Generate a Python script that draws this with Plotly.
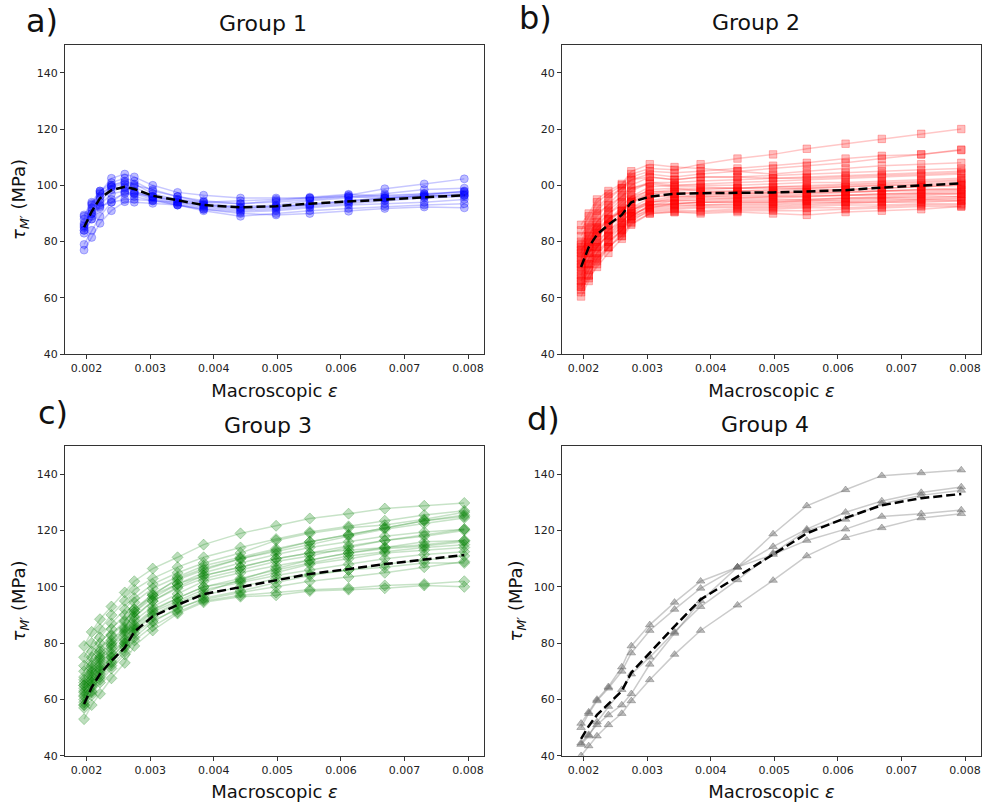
import plotly.graph_objects as go
from plotly.subplots import make_subplots

# ---------------- data ----------------
strain = [0.00196, 0.00208, 0.00221, 0.00239, 0.00260, 0.00275, 0.00304, 0.00343,
          0.00384, 0.00442, 0.00498, 0.00551, 0.00612, 0.00669, 0.00731, 0.00794]

x_ticks = [0.002, 0.003, 0.004, 0.005, 0.006, 0.007, 0.008]
x_tick_labels = ["0.002", "0.003", "0.004", "0.005", "0.006", "0.007", "0.008"]
y_ticks = [40, 60, 80, 100, 120, 140]
y_tick_labels = ["40", "60", "80", "100", "120", "140"]
y_tick_labels_b = ["40", "60", "80", "00", "20", "40"]   # clipped labels as shown

titles = ["Group 1", "Group 2", "Group 3", "Group 4"]
letters = ["a)", "b)", "c)", "d)"]

group1 = [
    [89.5, 94, 98, 101, 102.5, 101.5, 98, 96, 94.5, 93.5, 94, 95, 96, 97, 98.5, 99],
    [89, 93.5, 97.5, 102.5, 104, 103, 100, 97.5, 96.5, 95.5, 95.5, 95.5, 96.5, 98.8, 100.5, 102.3],
    [86, 91, 96, 100, 101.5, 100.5, 97, 95, 93.5, 92.5, 93, 94.5, 95.5, 96.5, 97, 97.5],
    [85, 90, 95, 99.5, 100.5, 99.5, 96, 94, 92.5, 91.5, 92, 93, 94, 95, 96, 97],
    [84, 89, 94, 98.5, 99.5, 98, 95.5, 93.5, 92, 91, 91.5, 92.5, 93.5, 94.5, 95.5, 96],
    [83, 88, 93, 97, 98, 97, 95, 93, 91.5, 90.5, 91, 92, 93, 93.5, 94, 95],
    [79, 84, 89, 94, 97.5, 96, 94.5, 93, 91.5, 90, 89.5, 90, 90.8, 91.8, 92.3, 92],
    [77, 81.5, 86.5, 91, 94.2, 94, 93.6, 93, 91, 89, 90, 91, 91.8, 92.5, 93, 93.5],
    [85.5, 92, 98, 100, 101, 100, 98.5, 96, 94, 93.5, 94.5, 95.5, 96, 95.5, 96, 96.5],
    [88, 93, 97, 99.5, 99, 97.5, 96, 95, 94, 94.5, 95, 95.8, 96.8, 96, 97, 97.8],
    [86.5, 90, 92.5, 94, 95, 95, 94.5, 94, 93, 92, 92.5, 93.5, 94.5, 95.5, 96.5, 98],
    [84, 88, 92, 95, 97, 97, 96, 94.5, 93, 92, 92.5, 93, 94.5, 95.5, 96.5, 96.5],
]
mean1 = [85.1, 90.7, 95.4, 98.3, 99.5, 98.7, 96.3, 94.7, 93.0, 92.2, 92.6, 93.5, 94.3, 95.0, 95.9, 96.5]

group2 = [
    [84, 89, 94, 97, 100, 104, 106, 105.5, 107.5, 109.5, 111, 113, 114.8, 116.5, 118.3, 120],
    [80, 86, 91, 95, 99, 103, 105, 104.5, 105, 106, 107, 108, 109.5, 110.5, 111, 112.7],
    [78, 84, 89, 93, 98, 102, 104, 103, 104, 105, 106, 107, 108, 109.5, 111, 112.5],
    [86, 90, 95, 98, 100.5, 105, 107.5, 106.5, 106, 105, 104, 105, 106, 107, 107.5, 108],
    [76, 82, 87, 92, 96, 100, 103, 102, 103, 103, 103.5, 104, 104.5, 105, 105.5, 106],
    [74, 80, 85, 90, 94, 98, 101, 101, 101.5, 102, 102.5, 103, 103.5, 104, 104.5, 105],
    [72, 78, 83, 88, 92, 96, 99.5, 100, 100.5, 101, 101.5, 102, 102.5, 103, 103.5, 104],
    [79, 83, 87, 91, 95, 99, 101, 100, 100, 100, 100.5, 101, 101, 101.5, 102, 102.5],
    [70, 76, 81, 86, 90, 94, 97, 98, 98.5, 99, 99.5, 100, 100.5, 101, 101.5, 102],
    [68, 74, 79, 84, 88, 92, 95.5, 97, 97.5, 98, 98.5, 99, 99.5, 100, 100.5, 101],
    [66, 72, 78, 83, 87, 91, 94.5, 96, 96.5, 97, 97.5, 98, 98.5, 99, 99.5, 100],
    [64, 70, 76, 81, 85, 90, 94, 95.5, 96, 96.5, 96.5, 97, 97.5, 98, 98.5, 99],
    [62, 68, 74, 79, 84, 89, 93, 94.5, 95, 95.5, 95.5, 96, 96.5, 97, 97.5, 98],
    [60.5, 66, 72, 78, 83, 88, 92, 93.5, 94, 94.5, 94.5, 95, 95.5, 96, 96.5, 97],
    [77, 81, 85, 88, 91, 94, 96, 96, 96, 96, 96, 96.5, 96.5, 97, 97, 97.5],
    [75, 79, 83, 86, 89, 92, 94, 94.5, 94.5, 95, 95, 95, 95.5, 95.5, 96, 96],
    [73, 78, 82, 85.5, 88.5, 91.5, 93, 93.5, 94, 94, 94, 94.5, 94.5, 95, 95, 95.5],
    [71, 76, 80, 84, 87, 90, 92, 92.5, 93, 93, 93, 93.5, 94, 94, 94.5, 94.5],
    [69, 74, 78, 82, 86, 89, 91, 91.5, 92, 92, 92, 92.5, 93, 93, 93.5, 93.5],
    [67, 72, 76, 80, 84, 88, 90.5, 91, 91, 91.5, 91.5, 92, 92, 92.5, 93, 93],
    [65, 70, 74, 78, 82, 86.5, 90, 90.5, 90.5, 91, 91, 91, 91.5, 92, 92.5, 92.5],
    [63, 67, 71, 76, 81, 86, 90, 90.5, 90, 90.5, 90, 89.5, 90.5, 91, 91.5, 92.5],
    [82, 87, 92, 96, 99, 102, 103, 102, 103, 103, 102.5, 102.5, 103, 103.5, 104, 104.5],
    [79, 85, 90, 93, 96, 99, 100.5, 99.5, 99.5, 99, 99, 99, 99.5, 100, 100, 100.5],
    [77, 82, 86, 90, 93, 96, 98, 97.5, 97.5, 97.5, 97.5, 97.5, 98, 98, 98.5, 98.5],
    [74, 79, 84, 88, 91, 94.5, 97, 97, 97, 97, 97, 97.5, 97.5, 98, 98, 98.5],
    [68, 73, 78, 82.5, 86.5, 91, 94, 95, 95.5, 95.5, 96, 96, 96.5, 96.5, 97, 97],
    [66, 71, 75, 80, 84, 89, 93, 93.5, 94, 94, 94, 94.5, 95, 95.5, 95.5, 96],
    [71, 77, 82, 87, 91, 95, 97.5, 98.5, 99, 99, 99.5, 99.5, 100, 100.5, 101, 101.5],
    [64, 68, 73, 78, 82, 87, 91.5, 92, 92.5, 92.5, 92.5, 93, 93.5, 94, 94, 94.5],
    [72, 76, 79, 82, 85, 89, 92.5, 93, 93, 93.5, 93.5, 94, 94, 94.5, 95, 95],
    [76, 80, 84, 87.5, 91, 95, 98.5, 99, 98, 98, 98, 98.5, 98.5, 99, 99.5, 100],
]
mean2 = [71, 78, 82.5, 86, 89.5, 94, 96, 97, 97.2, 97.3, 97.5, 97.8, 98.3, 99.2, 99.9, 100.7]

group3 = [
    [79, 84, 88.5, 93, 98, 102, 106.5, 110.5, 115, 119, 121.7, 124.3, 126, 127.8, 128.8, 129.8],
    [75, 80, 85, 90, 95, 99, 103, 107, 110.5, 114, 117, 119.5, 121.5, 123.5, 125.5, 127],
    [72, 77, 82, 87, 92, 96, 101, 105, 108.5, 112, 116.5, 119, 121, 122, 124, 126.5],
    [70, 75, 80, 85, 90, 94.5, 99.5, 103.5, 107.5, 110.5, 113.5, 116, 118.5, 121, 123.5, 125.5],
    [68, 73, 78, 83, 88, 92, 97.5, 102.5, 106, 110, 112.5, 115, 118, 120.5, 122.5, 124.5],
    [66, 71, 76, 81, 85.5, 91, 96, 101, 105, 108.5, 111.5, 114, 116, 118, 119.5, 120.5],
    [65, 69.5, 74.5, 79.5, 84.5, 89.5, 95, 99.5, 103, 106, 109, 111, 114, 116.5, 118, 120],
    [64, 68.5, 73, 78, 83, 88, 93, 97.5, 102, 105, 107.5, 109.5, 112, 114, 116, 116.5],
    [62.5, 67, 72, 76.5, 81.5, 86.5, 92, 96, 100, 102, 105, 108, 110, 112, 113, 114],
    [61, 66, 70.5, 75, 80, 85.5, 91, 95, 99, 101.5, 104, 106, 108, 110, 111.5, 112.5],
    [60, 64.5, 69, 73.5, 79, 84.5, 89.5, 94, 97, 100, 103, 104.5, 106, 108, 109.5, 111],
    [58, 62.5, 67, 72, 77, 82, 87.5, 92.5, 95.5, 98, 100, 102, 103.5, 105, 107, 109],
    [57, 61.5, 66, 71, 76, 81, 86, 91, 95, 97, 98, 99, 99.5, 100.5, 101, 102],
    [53, 58, 62, 67.5, 73, 79, 84.5, 90.5, 94.5, 96.5, 97, 98.5, 99, 99.5, 100.5, 100],
    [65, 70, 75, 80, 85, 91, 97, 103, 106.5, 110, 113, 116, 118.5, 121, 123.5, 125],
    [63, 68, 74, 79, 84, 89, 95, 100, 104, 107, 110, 112, 114.5, 116.5, 118.5, 120.5],
    [59, 65, 70, 75, 80, 85, 90, 94.5, 98, 102.5, 106.5, 109.5, 112, 113.5, 114.5, 116],
    [58, 63, 68, 73, 78.5, 83.5, 88, 92, 96, 98.5, 101.5, 104, 106, 107, 108.5, 108.5],
    [67, 72, 77, 82.5, 87.5, 92, 97, 101, 104, 107, 110, 112, 113, 114, 115, 116.5],
    [61.5, 66, 71, 76, 81, 86, 91.5, 96, 100, 103, 106, 108.5, 111, 112.5, 114, 115],
]
mean3 = [58.4, 64.3, 69, 73.7, 78.4, 84, 89.5, 93.6, 97.4, 99.9, 102.4, 104.6, 106.3, 108.1, 109.7, 111.3]

group4 = [
    [51.5, 55.5, 60, 64.5, 71.5, 79, 86.5, 94.5, 102, 107, 118.8, 128.8, 134.5, 139.5, 140.5, 141.5],
    [50, 55, 59.5, 64, 70, 76.5, 84.5, 92, 99.5, 107, 114.3, 120.5, 126.5, 130.5, 133.5, 135.5],
    [44, 47, 52, 57.5, 63.5, 69, 75, 84, 93, 102.5, 112, 120, 124, 129.5, 132.5, 134.3],
    [44.5, 47.5, 51, 54.5, 58, 62, 72.5, 83.5, 95, 107, 111.5, 116.5, 120.5, 125, 126, 127.3],
    [40, 43.5, 47, 51, 55, 59.5, 67, 76, 84.5, 93.5, 102.3, 111, 117.5, 121, 124.5, 126],
]
mean4 = [46, 50.5, 54.5, 58.5, 63, 69.5, 76.5, 86, 95.5, 103.5, 111.5, 119, 124.5, 129, 131.5, 133]

groups = [group1, group2, group3, group4]
means = [mean1, mean2, mean3, mean4]

# ---------------- styles ----------------
styles = [
    dict(line="rgba(0,0,255,0.22)", marker="rgba(0,0,255,0.26)", symbol="circle", size=8),
    dict(line="rgba(255,0,0,0.22)", marker="rgba(255,0,0,0.26)", symbol="square", size=7.5),
    dict(line="rgba(0,128,0,0.22)", marker="rgba(0,128,0,0.26)", symbol="diamond", size=8.5),
    dict(line="rgba(110,110,110,0.36)", marker="rgba(100,100,100,0.42)", symbol="triangle-up", size=7.5),
]

FONT = "DejaVu Sans"
W, H = 987, 812

fig = make_subplots(rows=2, cols=2)
positions = [(1, 1), (1, 2), (2, 1), (2, 2)]

for k, (grp, mean, st, (r, c)) in enumerate(zip(groups, means, styles, positions)):
    for series in grp:
        fig.add_trace(go.Scatter(
            x=strain, y=series, mode="lines+markers",
            line=dict(color=st["line"], width=1.5),
            marker=dict(symbol=st["symbol"], size=st["size"], color=st["marker"],
                        line=dict(color=st["marker"], width=1)),
            showlegend=False, hoverinfo="skip"), row=r, col=c)
    fig.add_trace(go.Scatter(
        x=strain, y=mean, mode="lines",
        line=dict(color="black", width=2.5, dash="9px,4px"),
        showlegend=False), row=r, col=c)

# domains measured in pixels
xdom = [[65 / W, 484 / W], [562 / W, 981 / W]]
ydom = [[(H - 357.3) / H, (H - 45) / H], [(H - 762.3) / H, (H - 450) / H]]

axis_common = dict(
    showgrid=False, zeroline=False, showline=True, linecolor="#333", linewidth=1,
    mirror=True, ticks="outside", ticklen=4, tickwidth=1, tickcolor="#333",
    tickfont=dict(family=FONT, size=11, color="#222"),
)

for k, (r, c) in enumerate(positions):
    suffix = "" if k == 0 else str(k + 1)
    xa = dict(axis_common)
    xa.update(domain=xdom[c - 1], range=[0.00166, 0.00825],
              tickvals=x_ticks, ticktext=x_tick_labels,
              title=dict(text="Macroscopic <i>ε</i>", font=dict(family=FONT, size=18, color="#111"),
                         standoff=9))
    ya = dict(axis_common)
    ya.update(domain=ydom[r - 1], range=[40, 150], tickvals=y_ticks,
              ticktext=(y_tick_labels_b if k == 1 else y_tick_labels))
    if k != 1:
        ya["title"] = dict(text="<i>τ</i><sub><i>M′</i></sub> (MPa)",
                           font=dict(family=FONT, size=18, color="#111"), standoff=6)
    fig.layout["xaxis" + suffix].update(xa)
    fig.layout["yaxis" + suffix].update(ya)

# titles & panel letters (pixel positions)
title_pos = [(262.5, 24), (756, 23), (268, 429), (765, 428)]
letter_pos = [(41.5, 21), (535.5, 18), (52.5, 417), (543, 423)]
for t, (px, py) in zip(titles, title_pos):
    fig.add_annotation(text=t, x=px / W, y=1 - py / H, xref="paper", yref="paper",
                       xanchor="center", yanchor="middle", showarrow=False,
                       font=dict(family=FONT, size=22, color="#111"))
for t, (px, py) in zip(letters, letter_pos):
    fig.add_annotation(text=t, x=px / W, y=1 - py / H, xref="paper", yref="paper",
                       xanchor="center", yanchor="middle", showarrow=False,
                       font=dict(family=FONT, size=32, color="#111"))

fig.update_layout(width=W, height=H, margin=dict(l=0, r=0, t=0, b=0),
                  plot_bgcolor="white", paper_bgcolor="white",
                  font=dict(family=FONT))

fig.write_html("out.html")
